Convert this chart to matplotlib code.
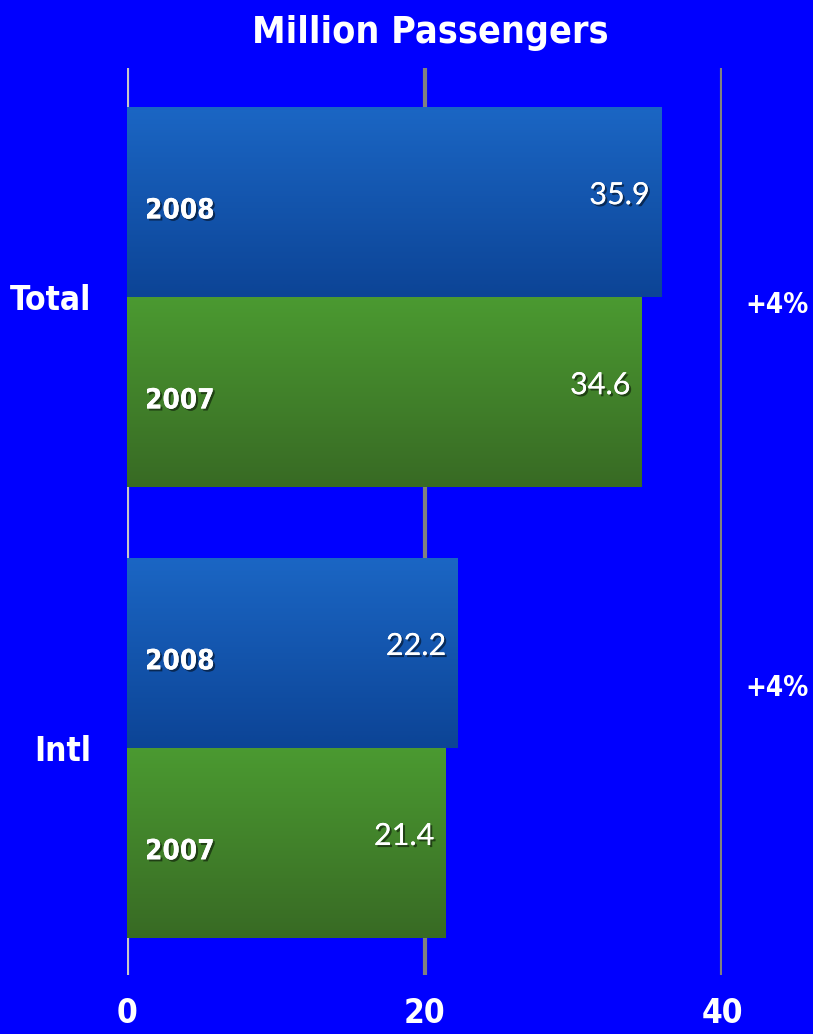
import numpy as np
import matplotlib
matplotlib.use('Agg')
import matplotlib.pyplot as plt
from matplotlib.colors import LinearSegmentedColormap
import matplotlib.patheffects as pe

categories = ['Total', 'Intl']
years = ['2008', '2007']
values_2008 = [35.9, 22.2]
values_2007 = [34.6, 21.4]
changes = ['+4%', '+4%']
x_ticks = [0, 20, 40]

bg = '#0000ff'
cond = dict(family='DejaVu Sans', fontstretch='condensed', fontweight='bold')

fig = plt.figure(figsize=(8.13, 10.34), dpi=100, facecolor=bg)
ax = fig.add_axes([127 / 813, 59 / 1034, 595 / 813, 907 / 1034])
ax.set_facecolor(bg)

# group centers: Total on top, Intl below
group_step = 2.373
centers = np.array([group_step, 0.0])

blue_cmap = LinearSegmentedColormap.from_list('b', ['#0c4496', '#1b66c4'])
green_cmap = LinearSegmentedColormap.from_list('g', ['#386a24', '#4b9a31'])

bars_08 = ax.barh(centers + 0.5, values_2008, height=1.0, color='#145ab0', zorder=2)
bars_07 = ax.barh(centers - 0.5, values_2007, height=1.0, color='#428a2c', zorder=2)

grad = np.linspace(0, 1, 256).reshape(-1, 1)
for bars, cmap in [(bars_08, blue_cmap), (bars_07, green_cmap)]:
    for b in bars:
        x0, y0, w, h = b.get_x(), b.get_y(), b.get_width(), b.get_height()
        ax.imshow(grad, extent=[x0, x0 + w, y0, y0 + h], origin='lower',
                  aspect='auto', cmap=cmap, zorder=3)

shadow = [pe.withSimplePatchShadow(offset=(1.5, -1.5), shadow_rgbFace='black', alpha=0.5),
          pe.Normal()]

for bars, vals, yr in [(bars_08, values_2008, years[0]), (bars_07, values_2007, years[1])]:
    for b, v in zip(bars, vals):
        yc = b.get_y() + b.get_height() / 2
        ax.annotate(yr, (0, yc), xytext=(13, -6), textcoords='offset points',
                    ha='left', va='center', color='white', fontsize=20,
                    zorder=5, path_effects=shadow, **cond)
        ax.annotate(f'{v}', (v, yc), xytext=(-8, 5), textcoords='offset points',
                    ha='right', va='center', color='white', fontsize=22,
                    family=['Lato', 'DejaVu Sans'], zorder=5, path_effects=shadow)

# gridlines
ax.set_xticks(x_ticks)
ax.set_xlim(0, 40)
ax.set_ylim(-1.195, group_step + 1.206)
for x in x_ticks:
    ax.axvline(x, color='#c8c8c8' if x == 0 else '#808080', lw=3, zorder=1)

ax.set_yticks(centers)
ax.set_yticklabels(categories)
ax.tick_params(axis='y', length=0, pad=26, labelsize=24, labelcolor='white')
ax.tick_params(axis='x', length=0, pad=16, labelsize=24, labelcolor='white')
for lbl in ax.get_xticklabels() + ax.get_yticklabels():
    lbl.set_fontweight('bold')
    lbl.set_family('DejaVu Sans')
    lbl.set_fontstretch('condensed')
for s in ax.spines.values():
    s.set_visible(False)

# change labels at right
for c, yc, dy in zip(changes, centers, [-8, 60]):
    ax.annotate(c, (40, yc), xytext=(87, dy), textcoords='offset pixels',
                ha='right', va='center', color='white', fontsize=20,
                annotation_clip=False, **cond)

fig.text(430 / 813, 1 - 33 / 1034, 'Million Passengers', ha='center', va='center',
         color='white', fontsize=27, **cond)

fig.savefig('out.png', dpi=100, facecolor=bg)
